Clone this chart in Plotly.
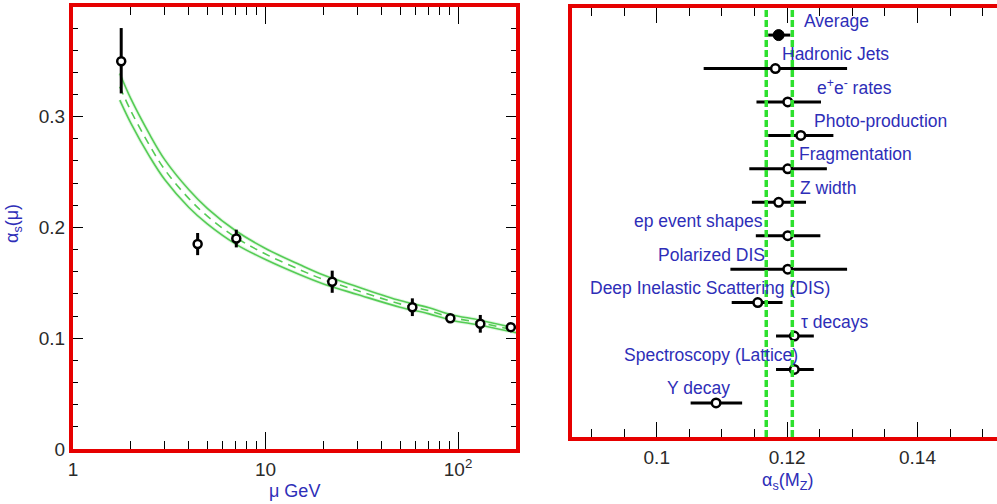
import plotly.graph_objects as go

# ---------------- Left panel data: alpha_s(mu) measurements ----------------
mu_pts = [1.78, 4.44, 7.05, 22.2, 57.9, 91.2, 130.5, 188.0]
alpha_pts = [0.350, 0.185, 0.190, 0.151, 0.128, 0.118, 0.113, 0.110]
alpha_err_up = [0.030, 0.010, 0.008, 0.010, 0.008, 0.003, 0.008, 0.003]
alpha_err_dn = [0.029, 0.010, 0.008, 0.010, 0.008, 0.003, 0.008, 0.003]

# running coupling band
curve_mu = [1.75, 2.0, 2.5, 3.0, 4.0, 5.0, 7.0, 10, 15, 20, 30, 50, 70, 91.2, 130, 200]
curve_center = [0.327, 0.305, 0.274, 0.252, 0.226, 0.210, 0.191, 0.176, 0.162, 0.153,
                0.143, 0.131, 0.125, 0.119, 0.114, 0.107]
curve_upper = [0.339, 0.316, 0.284, 0.261, 0.234, 0.217, 0.197, 0.181, 0.1665, 0.157,
               0.1465, 0.134, 0.1278, 0.1215, 0.1163, 0.109]
curve_lower = [0.315, 0.294, 0.264, 0.243, 0.218, 0.203, 0.185, 0.171, 0.1575, 0.149,
               0.1395, 0.128, 0.1222, 0.1165, 0.1117, 0.105]

left_xtick_vals = [1, 10, 100]
left_xtick_text = ["1", "10", "10<sup>2</sup>"]
left_xminor_vals = [2, 3, 4, 5, 6, 7, 8, 9, 20, 30, 40, 50, 60, 70, 80, 90]

# ---------------- Right panel data: alpha_s(M_Z) by process ----------------
processes = ["Average", "Hadronic Jets", "e<sup>+</sup>e<sup>-</sup> rates", "Photo-production",
             "Fragmentation", "Z width", "ep event shapes", "Polarized DIS",
             "Deep Inelastic Scattering (DIS)", "τ decays", "Spectroscopy (Lattice)", "Υ decay"]
rows = [12, 11, 10, 9, 8, 7, 6, 5, 4, 3, 2, 1]
as_mz = [0.1187, 0.1182, 0.1201, 0.1221, 0.1201, 0.1187, 0.1201, 0.1201, 0.1155, 0.1211, 0.1211, 0.1091]
as_err_lo = [0.0016, 0.0110, 0.0048, 0.0050, 0.0059, 0.0041, 0.0049, 0.0088, 0.0040, 0.0028, 0.0028, 0.0039]
as_err_hi = [0.0018, 0.0110, 0.0051, 0.0050, 0.0060, 0.0042, 0.0050, 0.0091, 0.0038, 0.0030, 0.0030, 0.0040]
label_x = [0.12226, 0.11893, 0.12430, 0.12384, 0.12149, 0.12169, 0.09616, 0.09989,
           0.08946, 0.12184, 0.09463, 0.10127]
avg_band = [0.1168, 0.1208]

RED = "#e60000"
BLUE = "#2e2eb8"
GREEN = "#55cc55"
TXT = "#2a2a2a"
FONT = "Liberation Sans, Arial, sans-serif"
W, H = 997, 504

fig = go.Figure()

# faint halo + band lines
for ys in (curve_upper, curve_lower):
    fig.add_trace(go.Scatter(x=curve_mu, y=ys, mode="lines",
                             line=dict(color="rgba(140,225,140,0.25)", width=3.5, shape="spline"),
                             xaxis="x", yaxis="y", hoverinfo="skip", showlegend=False))
for ys in (curve_upper, curve_lower):
    fig.add_trace(go.Scatter(x=curve_mu, y=ys, mode="lines", line=dict(color=GREEN, width=1.6, shape="spline"),
                             xaxis="x", yaxis="y", showlegend=False))
fig.add_trace(go.Scatter(x=curve_mu, y=curve_center, mode="lines",
                         line=dict(color=GREEN, width=1.6, dash="8px,6px", shape="spline"),
                         xaxis="x", yaxis="y", showlegend=False))

fig.add_trace(go.Scatter(
    x=mu_pts, y=alpha_pts, mode="markers", xaxis="x", yaxis="y", showlegend=False,
    marker=dict(symbol="circle", size=8, color="white", line=dict(color="black", width=2.5)),
    error_y=dict(type="data", symmetric=False, array=alpha_err_up, arrayminus=alpha_err_dn,
                 color="black", thickness=3, width=0),
    cliponaxis=False))

# right panel
fig.add_trace(go.Scatter(
    x=as_mz[1:], y=rows[1:], mode="markers", xaxis="x2", yaxis="y2", showlegend=False,
    marker=dict(symbol="circle", size=8.5, color="white", line=dict(color="black", width=2.5)),
    error_x=dict(type="data", symmetric=False, array=as_err_hi[1:], arrayminus=as_err_lo[1:],
                 color="black", thickness=3, width=0)))
fig.add_trace(go.Scatter(
    x=as_mz[:1], y=rows[:1], mode="markers", xaxis="x2", yaxis="y2", showlegend=False,
    marker=dict(symbol="circle", size=11, color="black", line=dict(color="black", width=1)),
    error_x=dict(type="data", symmetric=False, array=as_err_hi[:1], arrayminus=as_err_lo[:1],
                 color="black", thickness=3, width=0)))

for xv in avg_band:
    fig.add_shape(type="line", xref="x2", yref="y2 domain", x0=xv, x1=xv, y0=0, y1=1,
                  line=dict(color="#2ee02e", width=3.5, dash="7px,3px"), layer="above")

for name, r, lx in zip(processes, rows, label_x):
    fig.add_annotation(text=name, x=lx, y=r, xref="x2", yref="y2", xanchor="left", yanchor="middle",
                       yshift=14.5, showarrow=False, font=dict(family=FONT, size=17.5, color=BLUE))

# axis titles
fig.add_annotation(text="μ GeV", x=294 / W, y=1 - 491 / H, xref="paper", yref="paper", showarrow=False,
                   xanchor="center", yanchor="middle", font=dict(family=FONT, size=18, color=BLUE))
fig.add_annotation(text="α<sub>s</sub>(M<sub>Z</sub>)", x=787 / W, y=1 - 481 / H, xref="paper", yref="paper",
                   xanchor="center", yanchor="middle",
                   showarrow=False, font=dict(family=FONT, size=18, color=BLUE))
fig.add_annotation(text="α<sub>s</sub>(μ)", x=13 / W, y=1 - 224 / H, xref="paper", yref="paper",
                   xanchor="center", yanchor="middle",
                   showarrow=False, textangle=-90, font=dict(family=FONT, size=18, color=BLUE))

tickfont = dict(family=FONT, size=19, color=TXT)
common = dict(showline=True, linecolor=RED, linewidth=4, showgrid=False, zeroline=False,
              ticks="inside", tickcolor="black", tickwidth=1.3, tickfont=tickfont, automargin=False)

fig.update_layout(
    width=W, height=H, margin=dict(l=0, r=0, t=0, b=0, pad=0),
    paper_bgcolor="white", plot_bgcolor="white", showlegend=False,
    xaxis=dict(type="log", range=[0, 2.301], domain=[73 / W, 516 / W], anchor="y",
               tickmode="array", tickvals=left_xtick_vals, ticktext=left_xtick_text,
               ticklen=17, mirror="ticks",
               minor=dict(tickmode="array", tickvals=left_xminor_vals, ticks="inside", ticklen=8,
                          tickcolor="black", tickwidth=1.3),
               **common),
    yaxis=dict(range=[0, 0.399], domain=[1 - 449 / H, 1 - 7 / H], anchor="x",
               tick0=0, dtick=0.1, ticklen=10, mirror="ticks",
               minor=dict(dtick=0.02, ticks="inside", ticklen=5, tickcolor="black", tickwidth=1.3),
               **common),
    xaxis2=dict(range=[0.087, 0.1522], domain=[572 / W, 1.0], anchor="y2",
                tick0=0.1, dtick=0.02, ticklen=15, mirror="ticks",
                minor=dict(dtick=0.005, ticks="inside", ticklen=8, tickcolor="black", tickwidth=1.3),
                **common),
    yaxis2=dict(range=[-0.02, 12.81], domain=[1 - 437 / H, 1 - 8 / H], anchor="x2",
                showline=True, linecolor=RED, linewidth=4, mirror=False, showgrid=False,
                zeroline=False, ticks="", showticklabels=False, automargin=False),
)

fig.write_html("out.html", config={"displayModeBar": False},
               post_script="document.body.style.margin='0';document.body.style.overflow='hidden';")
